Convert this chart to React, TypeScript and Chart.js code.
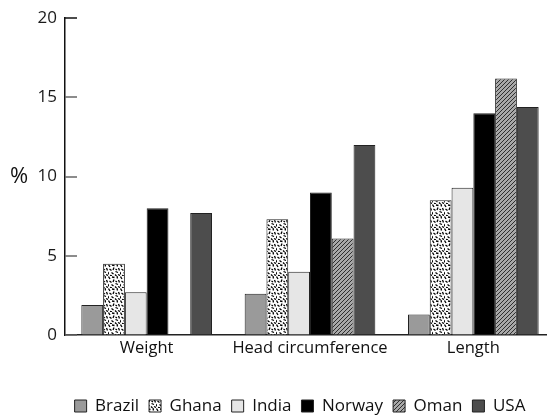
import React, { useEffect, useRef } from 'react';
import { Chart, registerables } from 'chart.js';

Chart.register(...registerables);

const categories = ['Weight', 'Head circumference', 'Length'];
const countries = ['Brazil', 'Ghana', 'India', 'Norway', 'Oman', 'USA'];
const brazil = [1.9, 2.6, 1.3];
const ghana = [4.5, 7.3, 8.5];
const india = [2.7, 4.0, 9.3];
const norway = [8.0, 9.0, 14.0];
const oman = [null, 6.1, 16.2];
const usa = [7.7, 12.0, 14.4];
const yTicks = [0, 5, 10, 15, 20];
const yLabel = '%';

const FONT = "'Open Sans', sans-serif";

function makeHatch(ctx: CanvasRenderingContext2D) {
  const c = document.createElement('canvas');
  c.width = 4;
  c.height = 4;
  const g = c.getContext('2d')!;
  g.fillStyle = '#a8a8a8';
  g.fillRect(0, 0, 4, 4);
  g.strokeStyle = '#2e2e2e';
  g.lineWidth = 1;
  g.beginPath();
  g.moveTo(0, 4);
  g.lineTo(4, 0);
  g.moveTo(-1, 1);
  g.lineTo(1, -1);
  g.moveTo(3, 5);
  g.lineTo(5, 3);
  g.stroke();
  return ctx.createPattern(c, 'repeat')!;
}

function makeSpeckle(ctx: CanvasRenderingContext2D) {
  const c = document.createElement('canvas');
  c.width = 12;
  c.height = 12;
  const g = c.getContext('2d')!;
  g.fillStyle = '#ffffff';
  g.fillRect(0, 0, 12, 12);
  g.strokeStyle = '#000';
  g.lineWidth = 1.3;
  const strokes = [
    [0.5, 0.5, 2, 3], [4, 1, 6.5, 1.5], [9, 0, 9.5, 2.5], [10.5, 4, 11.5, 6.5],
    [6, 3.5, 5, 6], [1.5, 5, 3.5, 6.5], [0, 8, 0.5, 10.5], [3.5, 8.5, 5.5, 10],
    [7.5, 7.5, 10, 8.5], [7, 10.5, 8.5, 12], [10, 10.5, 12, 11.5], [2, 11.5, 4, 12],
    [7.5, 5, 9, 6],
  ];
  g.beginPath();
  strokes.forEach(([a, b, x, y]) => {
    g.moveTo(a, b);
    g.lineTo(x, y);
  });
  g.stroke();
  return ctx.createPattern(c, 'repeat')!;
}

export default function App() {
  const ref = useRef<HTMLCanvasElement>(null);

  useEffect(() => {
    const canvas = ref.current!;
    const ctx = canvas.getContext('2d')!;
    const fills = ['#9a9a9a', makeSpeckle(ctx), '#e6e6e6', '#000000', makeHatch(ctx), '#4d4d4d'];
    const series = [brazil, ghana, india, norway, oman, usa];
    const LEGEND_FONT = 17;
    const LEGEND_PAD = 10;

    const extras = {
      id: 'extras',
      afterLayout(chart: any) {
        const l = chart.legend;
        if (!l) return;
        const dx = 300 - (l.left + l.right) / 2;
        l.left += dx;
        l.right += dx;
        const top = 406 - LEGEND_PAD - LEGEND_FONT / 2;
        const h = l.bottom - l.top;
        l.top = top;
        l.bottom = top + h;
      },
      afterDatasetsDraw(chart: any) {
        const c = chart.ctx;
        const y = chart.scales.y;
        const left = chart.chartArea.left;
        c.save();
        c.lineWidth = 1.5;
        yTicks.forEach((v) => {
          const py = Math.round(y.getPixelForValue(v));
          c.strokeStyle = v === 20 ? '#111' : '#666';
          c.beginPath();
          c.moveTo(left, py);
          c.lineTo(left + 12, py);
          c.stroke();
        });
        c.fillStyle = '#111';
        c.font = `22px ${FONT}`;
        c.textAlign = 'left';
        c.textBaseline = 'middle';
        c.fillText(yLabel, left - 55, y.getPixelForValue(10));
        c.restore();
      },
    };

    const chart = new Chart(ctx, {
      type: 'bar',
      data: {
        labels: categories,
        datasets: countries.map((name, i) => ({
          label: name,
          data: series[i] as any,
          backgroundColor: fills[i] as any,
          borderColor: '#222',
          borderWidth: 1,
          categoryPercentage: 0.8,
          barPercentage: 1.0,
        })),
      },
      options: {
        responsive: false,
        animation: false,
        layout: { padding: { top: 10, right: 0, left: 0, bottom: 0 } },
        scales: {
          x: {
            grid: { display: true, drawOnChartArea: false, drawTicks: false },
            border: { display: true, color: '#222', width: 1.5 },
            ticks: {
              color: '#111',
              font: { family: FONT, size: 16.5 },
              padding: 3,
              maxRotation: 0,
              minRotation: 0,
              autoSkip: false,
            },
            afterFit(scale: any) {
              const lg = scale.chart.legend;
              const lh = lg ? lg.height : 0;
              scale.height = Math.max(scale.height, 417 - 335 - lh);
            },
          },
          y: {
            min: 0,
            max: 20,
            grid: { display: true, drawOnChartArea: false, drawTicks: false },
            border: { display: true, color: '#111', width: 1.5 },
            ticks: { stepSize: 5, color: '#1a1a1a', font: { family: FONT, size: 17 }, padding: 8 },
            afterFit(scale: any) {
              scale.width = 65;
            },
          },
        },
        plugins: {
          legend: {
            position: 'bottom',
            labels: {
              color: '#111',
              font: { family: FONT, size: LEGEND_FONT },
              boxWidth: 12,
              boxHeight: 12,
              padding: LEGEND_PAD,
            },
          },
          tooltip: { enabled: false },
        },
      },
      plugins: [extras],
    });
    return () => chart.destroy();
  }, []);

  return (
    <div style={{ position: 'absolute', left: 0, top: 0, width: 547, height: 417, overflow: 'hidden' }}>
      <canvas ref={ref} width={555} height={417} />
    </div>
  );
}
